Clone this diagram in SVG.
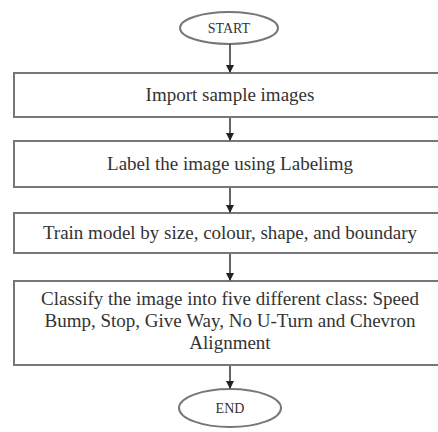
<svg xmlns="http://www.w3.org/2000/svg" width="438" height="432" viewBox="0 0 438 432">
<style>
.box{fill:#fff;stroke:#777;stroke-width:2}
.t{font-family:"Liberation Serif","Times New Roman",serif;font-size:19px;fill:#333;text-anchor:middle}
.s{font-size:14px}
.c{stroke:#333;stroke-width:1.5;fill:none}
</style>
<defs>
<marker id="ah" markerWidth="8" markerHeight="8" refX="7" refY="4" orient="auto" markerUnits="userSpaceOnUse">
<path d="M0,0 L8,4 L0,8 Z" fill="#222"/>
</marker>
</defs>
<rect width="438" height="432" fill="#fff"/>
<g id="start"><ellipse class="box" cx="229" cy="28" rx="49" ry="16"/><text class="t s" x="229" y="33">START</text></g>
<g id="import"><rect class="box" x="14" y="73" width="432" height="44"/><text class="t" x="230" y="101">Import sample images</text></g>
<g id="label"><rect class="box" x="14" y="141" width="432" height="46"/><text class="t" x="230" y="170">Label the image using Labelimg</text></g>
<g id="train"><rect class="box" x="14" y="213" width="432" height="40"/><text class="t" x="230" y="239">Train model by size, colour, shape, and boundary</text></g>
<g id="classify"><rect class="box" x="14" y="281" width="432" height="84"/>
<text class="t" x="230" y="305">Classify the image into five different class: Speed</text>
<text class="t" x="230" y="327">Bump, Stop, Give Way, No U-Turn and Chevron</text>
<text class="t" x="230" y="349">Alignment</text></g>
<g id="end"><ellipse class="box" cx="230" cy="408" rx="51" ry="19"/><text class="t s" x="230" y="413">END</text></g>
<g id="connectors">
<line class="c" x1="230" y1="44" x2="230" y2="72" marker-end="url(#ah)"/>
<line class="c" x1="230" y1="118" x2="230" y2="140" marker-end="url(#ah)"/>
<line class="c" x1="230" y1="188" x2="230" y2="212" marker-end="url(#ah)"/>
<line class="c" x1="230" y1="254" x2="230" y2="280" marker-end="url(#ah)"/>
<line class="c" x1="230" y1="366" x2="230" y2="388" marker-end="url(#ah)"/>
</g>
</svg>
